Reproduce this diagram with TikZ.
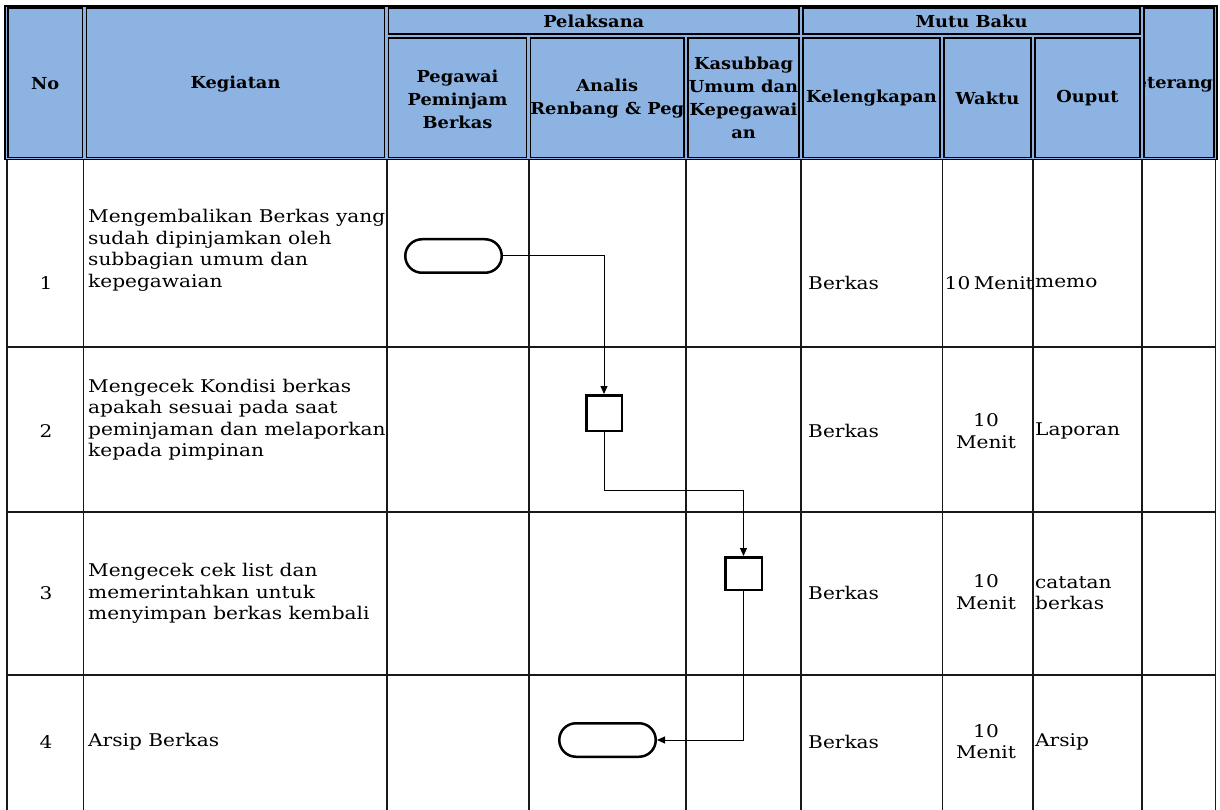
\documentclass[tikz,border=0pt]{standalone}
\usepackage{fontspec}
\setmainfont{DejaVu Serif}
\newfontfamily\bodyfont[FakeStretch=1.15]{DejaVu Serif}
\newfontfamily\headfont[FakeStretch=1.08]{DejaVu Serif}
\usetikzlibrary{shapes.misc,arrows.meta}
\definecolor{hdr}{HTML}{8DB3E2}
\tikzset{
  grid/.style={line width=1.1pt, black!90},
  hcell/.style={draw, line width=1.4pt, fill=hdr, inner sep=0pt},
  htext/.style={font=\headfont\fontsize{16.5}{23}\selectfont\bfseries, align=center, inner sep=0pt},
  btext/.style={font=\bodyfont\fontsize{17.5}{21.5}\selectfont, align=left, inner sep=0pt, anchor=west},
  ctext/.style={font=\bodyfont\fontsize{17.5}{21.5}\selectfont, align=center, inner sep=0pt},
  term/.style={rounded rectangle, draw, line width=2.5pt, minimum width=96.5pt, minimum height=33.5pt, inner sep=0pt},
  proc/.style={rectangle, draw, line width=2.5pt, inner sep=0pt},
  conn/.style={line width=1pt, -{Triangle[length=8pt,width=7pt]}},
}
\begin{document}
\begin{tikzpicture}[x=1pt,y=-1pt]
\useasboundingbox (0,0) rectangle (1220,810);
% header background and frame
\draw[line width=1.8pt, fill=hdr] (5,6) rectangle (1217,159.5);
% header cells
\node[hcell, minimum width=74.5pt, minimum height=149.5pt] (hno) at (45.25,82.75) {};
\node[htext] (hnot) at (45.25,84) {No};
\node[hcell, minimum width=298pt, minimum height=149.5pt] (hkeg) at (235.5,82.75) {};
\node[htext] (hkegt) at (235.5,84) {Kegiatan};
\node[hcell, minimum width=410.5pt, minimum height=26pt] (hpel) at (593.75,21) {};
\node[htext] (hpelt) at (593.75,21) {Pelaksana};
\node[hcell, minimum width=138pt, minimum height=119.5pt] (hpeg) at (457.5,97.75) {};
\node[htext] (hpegt) at (457.5,99.5) {Pegawai\\Peminjam\\Berkas};
\node[hcell, minimum width=153.5pt, minimum height=119.5pt] (hana) at (607.25,97.75) {};
\node[htext] (hanat) at (607.25,98.5) {Analis\\Renbang \& Peg};
\node[hcell, minimum width=111pt, minimum height=119.5pt] (hkas) at (743.5,97.75) {};
\node[htext] (hkast) at (743.5,98) {Kasubbag\\Umum dan\\Kepegawai\\an};
\node[hcell, minimum width=337pt, minimum height=26pt] (hmut) at (971.5,21) {};
\node[htext] (hmutt) at (971.5,21) {Mutu Baku};
\node[hcell, minimum width=137pt, minimum height=119.5pt] (hkel) at (871.5,97.75) {};
\node[htext] (hkelt) at (871.5,98) {Kelengkapan};
\node[hcell, minimum width=87pt, minimum height=119.5pt] (hwak) at (987.5,97.75) {};
\node[htext] (hwakt) at (987.5,98) {Waktu};
\node[hcell, minimum width=105pt, minimum height=119.5pt] (hou) at (1087.5,97.75) {};
\node[htext] (hout) at (1087.5,98) {Ouput};
\node[hcell, minimum width=70pt, minimum height=149.5pt] (hket) at (1179,82.75) {};
\begin{scope}
  \clip (1144,9) rectangle (1214,157);
  \node[htext] (hkett) at (1179,84) {Keterangan};
\end{scope}
% body grid
\foreach \x in {7,83.5,387,529,686,801,942.5,1033,1142,1215.5}
  \draw[grid] (\x,160) -- (\x,810);
\foreach \y in {347,512,675}
  \draw[grid] (7,\y) -- (1215.5,\y);
% numbers
\node[ctext] (n1) at (46,283) {1};
\node[ctext] (n2) at (46,431) {2};
\node[ctext] (n3) at (46,593) {3};
\node[ctext] (n4) at (46,742) {4};
% kegiatan
\node[btext] (k1) at (88,250.5) {Mengembalikan Berkas yang\\sudah dipinjamkan oleh\\subbagian umum dan\\kepegawaian};
\node[btext] (k2) at (88,419.5) {Mengecek Kondisi berkas\\apakah sesuai pada saat\\peminjaman dan melaporkan\\kepada pimpinan};
\node[btext] (k3) at (88,593.5) {Mengecek cek list dan\\memerintahkan untuk\\menyimpan berkas kembali};
\node[btext] (k4) at (88,742) {Arsip Berkas};
% kelengkapan
\node[btext] (l1) at (808,283) {Berkas};
\node[btext] (l2) at (808,431) {Berkas};
\node[btext] (l3) at (808,593) {Berkas};
\node[btext] (l4) at (808,742) {Berkas};
% waktu
\node[btext] (w1) at (944.5,283) {10\hspace{3.5pt}Menit};
\node[ctext] (w2) at (986,431) {10\\Menit};
\node[ctext] (w3) at (986,592) {10\\Menit};
\node[ctext] (w4) at (986,741.5) {10\\Menit};
% output
\node[btext] (o1) at (1035,283) {memo};
\node[btext] (o2) at (1035,431) {Laporan};
\node[btext] (o3) at (1035,593) {catatan\\berkas};
\node[btext] (o4) at (1035,742) {Arsip};
% flow shapes
\node[term] (t1) at (453.5,256) {};
\node[proc, minimum width=35.5pt, minimum height=35.5pt] (p2) at (604,413) {};
\node[proc, minimum width=36.5pt, minimum height=32.5pt] (p3) at (743.5,573.5) {};
\node[term] (t4) at (607.5,740) {};
% connectors
\draw[conn] (t1.east) -| (p2.north);
\draw[conn] (p2.south) -- ++(0,58) -| (p3.north);
\draw[conn] (p3.south) |- (t4.east);
\end{tikzpicture}
\end{document}
